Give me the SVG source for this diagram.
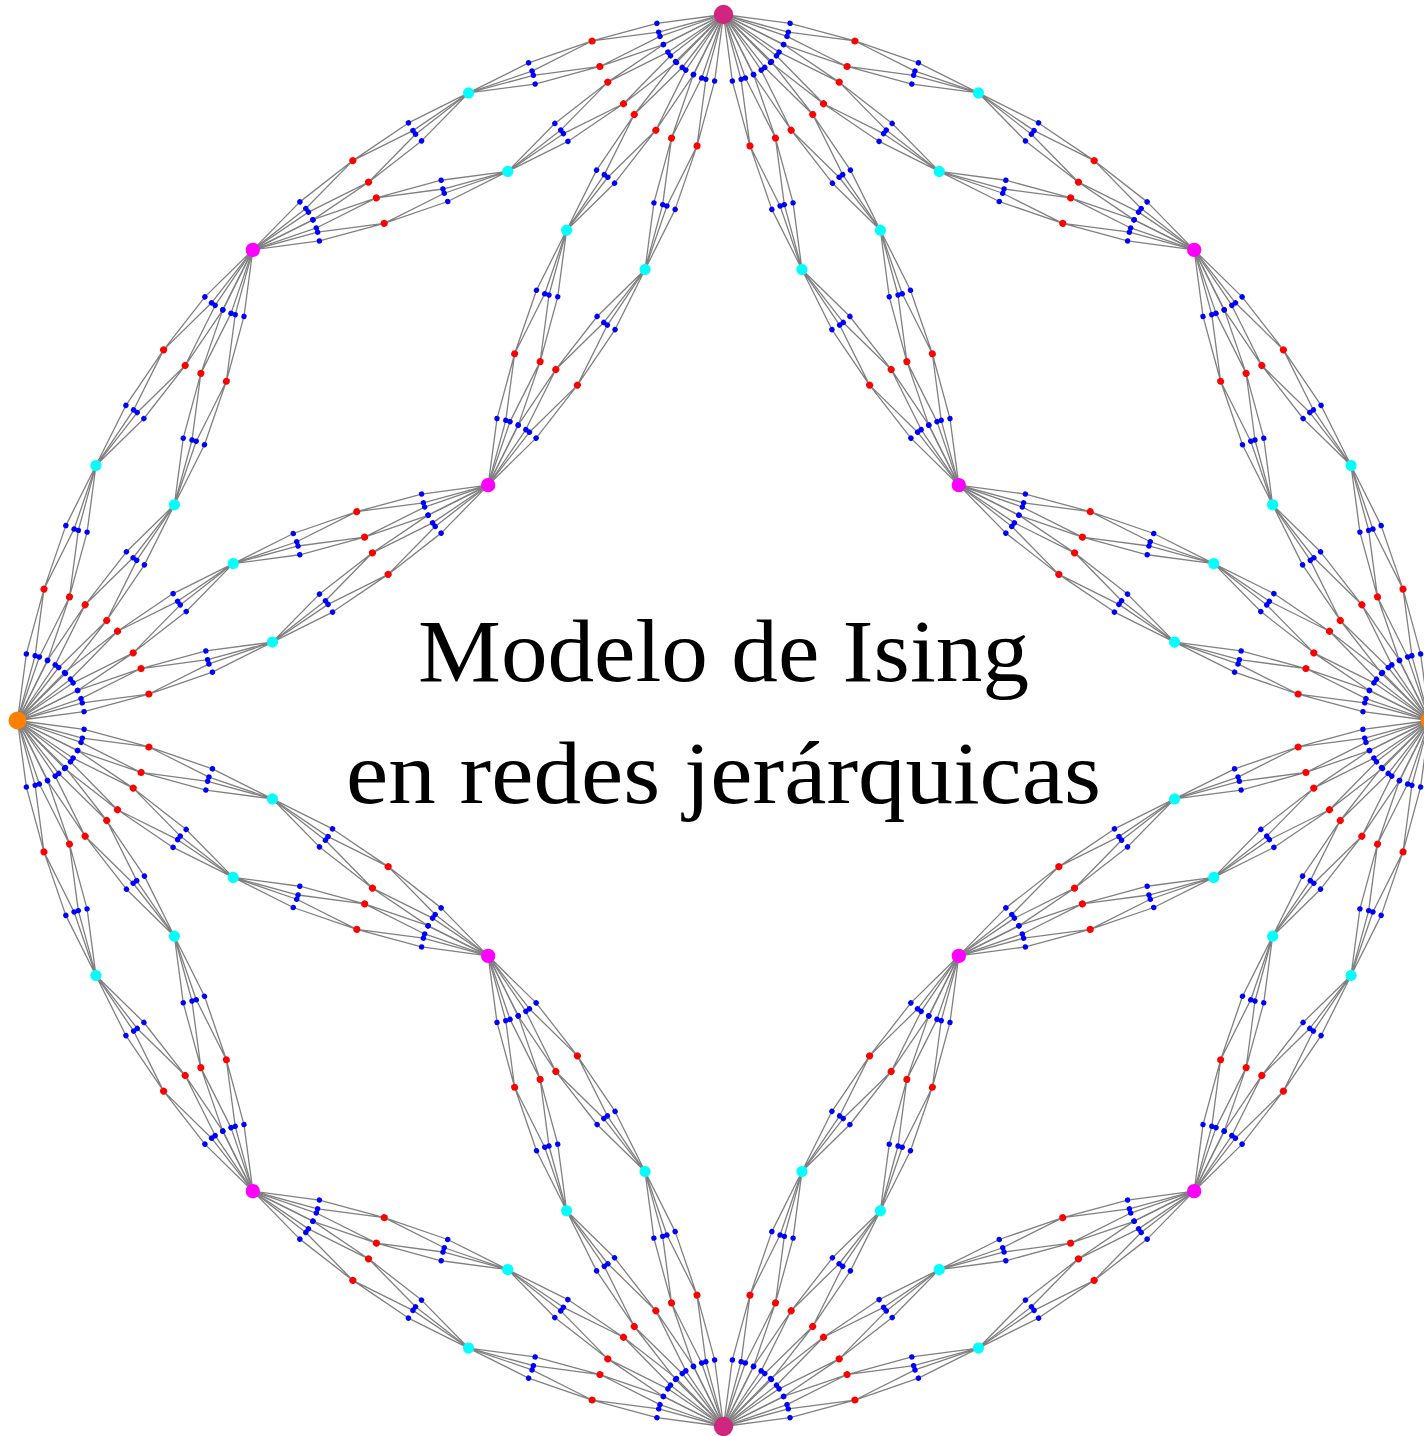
<svg xmlns="http://www.w3.org/2000/svg" xmlns:xlink="http://www.w3.org/1999/xlink" width="1424" height="1436" viewBox="0 0 1424 1436">
<style>
.edge{fill:none;stroke:#808080;stroke-width:0.0097;stroke-linecap:round;stroke-linejoin:round}
.blue{fill:#0000FF}
.red{fill:#FF0000}
.cyan{fill:#00FFFF}
.mag{fill:#FF00FF}
.orange{fill:#FF8000}
.end{fill:#D12680}
.title{font-family:'Liberation Serif','DejaVu Serif',serif;font-size:88px;text-anchor:middle;fill:#000}
</style>
<defs>
<!-- edges: level-5 bond diamond in unit frame -->
<path id="e5" class="edge" d="M0,0L0.5,0.0333333L1,0M0,0L0.5,-0.0333333L1,0"/>
<g id="e4">
<use href="#e5" transform="matrix(0.5 0.05 -0.05 0.5 0 0)"/>
<use href="#e5" transform="matrix(0.5 -0.05 0.05 0.5 0.5 0.05)"/>
<use href="#e5" transform="matrix(0.5 -0.05 0.05 0.5 0 0)"/>
<use href="#e5" transform="matrix(0.5 0.05 -0.05 0.5 0.5 -0.05)"/>
</g>
<g id="e3">
<use href="#e4" transform="matrix(0.5 0.0833333 -0.0833333 0.5 0 0)"/>
<use href="#e4" transform="matrix(0.5 -0.0833333 0.0833333 0.5 0.5 0.0833333)"/>
<use href="#e4" transform="matrix(0.5 -0.0833333 0.0833333 0.5 0 0)"/>
<use href="#e4" transform="matrix(0.5 0.0833333 -0.0833333 0.5 0.5 -0.0833333)"/>
</g>
<g id="e2">
<use href="#e3" transform="matrix(0.5 0.1666667 -0.1666667 0.5 0 0)"/>
<use href="#e3" transform="matrix(0.5 -0.1666667 0.1666667 0.5 0.5 0.1666667)"/>
<use href="#e3" transform="matrix(0.5 -0.1666667 0.1666667 0.5 0 0)"/>
<use href="#e3" transform="matrix(0.5 0.1666667 -0.1666667 0.5 0.5 -0.1666667)"/>
</g>
<g id="e1">
<use href="#e2" transform="matrix(0.5 0.5 -0.5 0.5 0 0)"/>
<use href="#e2" transform="matrix(0.5 -0.5 0.5 0.5 0.5 0.5)"/>
<use href="#e2" transform="matrix(0.5 -0.5 0.5 0.5 0 0)"/>
<use href="#e2" transform="matrix(0.5 0.5 -0.5 0.5 0.5 -0.5)"/>
</g>
<!-- blue nodes (level 5) -->
<g id="b5" class="blue">
<circle cx="0.5" cy="0.0333333" r="0.020144"/>
<circle cx="0.5" cy="-0.0333333" r="0.020144"/>
</g>
<g id="b4">
<use href="#b5" transform="matrix(0.5 0.05 -0.05 0.5 0 0)"/>
<use href="#b5" transform="matrix(0.5 -0.05 0.05 0.5 0.5 0.05)"/>
<use href="#b5" transform="matrix(0.5 -0.05 0.05 0.5 0 0)"/>
<use href="#b5" transform="matrix(0.5 0.05 -0.05 0.5 0.5 -0.05)"/>
</g>
<g id="b3">
<use href="#b4" transform="matrix(0.5 0.0833333 -0.0833333 0.5 0 0)"/>
<use href="#b4" transform="matrix(0.5 -0.0833333 0.0833333 0.5 0.5 0.0833333)"/>
<use href="#b4" transform="matrix(0.5 -0.0833333 0.0833333 0.5 0 0)"/>
<use href="#b4" transform="matrix(0.5 0.0833333 -0.0833333 0.5 0.5 -0.0833333)"/>
</g>
<g id="b2">
<use href="#b3" transform="matrix(0.5 0.1666667 -0.1666667 0.5 0 0)"/>
<use href="#b3" transform="matrix(0.5 -0.1666667 0.1666667 0.5 0.5 0.1666667)"/>
<use href="#b3" transform="matrix(0.5 -0.1666667 0.1666667 0.5 0 0)"/>
<use href="#b3" transform="matrix(0.5 0.1666667 -0.1666667 0.5 0.5 -0.1666667)"/>
</g>
<g id="b1">
<use href="#b2" transform="matrix(0.5 0.5 -0.5 0.5 0 0)"/>
<use href="#b2" transform="matrix(0.5 -0.5 0.5 0.5 0.5 0.5)"/>
<use href="#b2" transform="matrix(0.5 -0.5 0.5 0.5 0 0)"/>
<use href="#b2" transform="matrix(0.5 0.5 -0.5 0.5 0.5 -0.5)"/>
</g>
<!-- red nodes (level 4) -->
<g id="r4" class="red">
<circle cx="0.5" cy="0.05" r="0.013122"/>
<circle cx="0.5" cy="-0.05" r="0.013122"/>
</g>
<g id="r3">
<use href="#r4" transform="matrix(0.5 0.0833333 -0.0833333 0.5 0 0)"/>
<use href="#r4" transform="matrix(0.5 -0.0833333 0.0833333 0.5 0.5 0.0833333)"/>
<use href="#r4" transform="matrix(0.5 -0.0833333 0.0833333 0.5 0 0)"/>
<use href="#r4" transform="matrix(0.5 0.0833333 -0.0833333 0.5 0.5 -0.0833333)"/>
</g>
<g id="r2">
<use href="#r3" transform="matrix(0.5 0.1666667 -0.1666667 0.5 0 0)"/>
<use href="#r3" transform="matrix(0.5 -0.1666667 0.1666667 0.5 0.5 0.1666667)"/>
<use href="#r3" transform="matrix(0.5 -0.1666667 0.1666667 0.5 0 0)"/>
<use href="#r3" transform="matrix(0.5 0.1666667 -0.1666667 0.5 0.5 -0.1666667)"/>
</g>
<g id="r1">
<use href="#r2" transform="matrix(0.5 0.5 -0.5 0.5 0 0)"/>
<use href="#r2" transform="matrix(0.5 -0.5 0.5 0.5 0.5 0.5)"/>
<use href="#r2" transform="matrix(0.5 -0.5 0.5 0.5 0 0)"/>
<use href="#r2" transform="matrix(0.5 0.5 -0.5 0.5 0.5 -0.5)"/>
</g>
<!-- cyan nodes (level 3) -->
<g id="c3" class="cyan">
<circle cx="0.5" cy="0.0833333" r="0.010642"/>
<circle cx="0.5" cy="-0.0833333" r="0.010642"/>
</g>
<g id="c2">
<use href="#c3" transform="matrix(0.5 0.1666667 -0.1666667 0.5 0 0)"/>
<use href="#c3" transform="matrix(0.5 -0.1666667 0.1666667 0.5 0.5 0.1666667)"/>
<use href="#c3" transform="matrix(0.5 -0.1666667 0.1666667 0.5 0 0)"/>
<use href="#c3" transform="matrix(0.5 0.1666667 -0.1666667 0.5 0.5 -0.1666667)"/>
</g>
<g id="c1">
<use href="#c2" transform="matrix(0.5 0.5 -0.5 0.5 0 0)"/>
<use href="#c2" transform="matrix(0.5 -0.5 0.5 0.5 0.5 0.5)"/>
<use href="#c2" transform="matrix(0.5 -0.5 0.5 0.5 0 0)"/>
<use href="#c2" transform="matrix(0.5 0.5 -0.5 0.5 0.5 -0.5)"/>
</g>
<!-- magenta nodes (level 2) -->
<g id="m2" class="mag">
<circle cx="0.5" cy="0.1666667" r="0.0072113"/>
<circle cx="0.5" cy="-0.1666667" r="0.0072113"/>
</g>
<g id="m1">
<use href="#m2" transform="matrix(0.5 0.5 -0.5 0.5 0 0)"/>
<use href="#m2" transform="matrix(0.5 -0.5 0.5 0.5 0.5 0.5)"/>
<use href="#m2" transform="matrix(0.5 -0.5 0.5 0.5 0 0)"/>
<use href="#m2" transform="matrix(0.5 0.5 -0.5 0.5 0.5 -0.5)"/>
</g>
</defs>
<rect width="1424" height="1436" fill="#FFFFFF"/>
<g id="connectors" transform="matrix(0 1412 -1412 0 723.5 14.5)">
<use href="#e1"/>
</g>
<g id="nodes-level5" transform="matrix(0 1412 -1412 0 723.5 14.5)">
<use href="#b1"/>
</g>
<g id="nodes-level4" transform="matrix(0 1412 -1412 0 723.5 14.5)">
<use href="#r1"/>
</g>
<g id="nodes-level3" transform="matrix(0 1412 -1412 0 723.5 14.5)">
<use href="#c1"/>
</g>
<g id="nodes-level2" transform="matrix(0 1412 -1412 0 723.5 14.5)">
<use href="#m1"/>
</g>
<g id="node-left"><circle class="orange" cx="17.5" cy="720.5" r="9"/></g>
<g id="node-right"><circle class="orange" cx="1429.5" cy="720.5" r="9"/></g>
<g id="node-top"><circle class="end" cx="723.5" cy="14.5" r="9.7"/></g>
<g id="node-bottom"><circle class="end" cx="723.5" cy="1426.5" r="9.7"/></g>
<g id="title">
<text class="title" x="723.5" y="681" textLength="611" lengthAdjust="spacingAndGlyphs">Modelo de Ising</text>
<text class="title" x="723.5" y="803" textLength="755" lengthAdjust="spacingAndGlyphs">en redes jerárquicas</text>
</g>
</svg>
